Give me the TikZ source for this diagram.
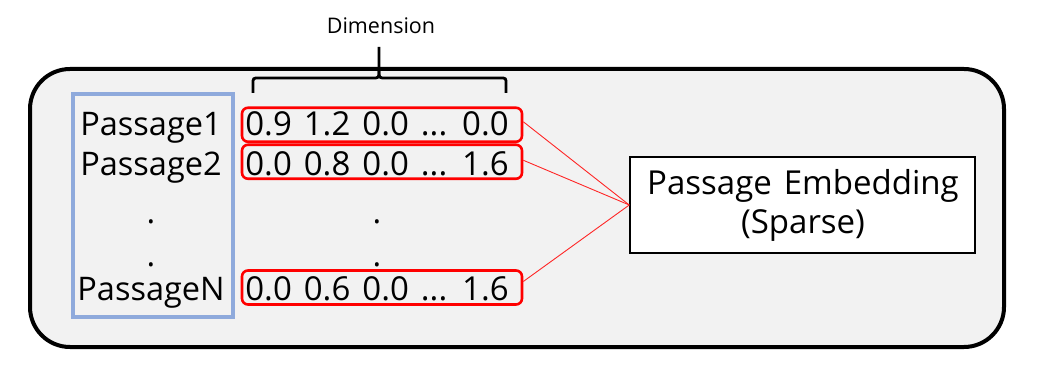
\documentclass[tikz,border=0pt]{standalone}
\usepackage{fontspec}
\setmainfont{Open Sans}
\newfontfamily\widefont[WordSpace=1.4]{Open Sans}
\begin{document}
\begin{tikzpicture}[x=1pt,y=-1pt,
  redbox/.style={draw=red, line width=2.6pt, rounded corners=6pt, minimum width=280pt, minimum height=34pt, inner sep=0pt},
  bigtxt/.style={font=\fontsize{32.5}{36}\selectfont, inner sep=0pt, anchor=base},
  numtxt/.style={font=\widefont\fontsize{33}{36}\selectfont, inner sep=0pt, anchor=base},
  conn/.style={draw=red!85!white, line width=0.9pt}]
\useasboundingbox (0,0) rectangle (1041,371);
\definecolor{bgg}{RGB}{242,242,242}
\definecolor{blu}{RGB}{143,170,220}
% outer container
\draw[line width=4pt, fill=bgg, rounded corners=40pt] (30,69) rectangle (1004,347);
% passage list box
\node[draw=blu, line width=4pt, minimum width=160pt, minimum height=223pt, inner sep=0pt] (plist) at (153,205.5) {};
\node[bigtxt] (p1) at (151,136) {Passage1};
\node[bigtxt] (p2) at (151,176) {Passage2};
\node[bigtxt] (pd1) at (151,224) {.};
\node[bigtxt] (pd2) at (151,267) {.};
\node[bigtxt] (pN) at (151,301) {PassageN};
% vector rows
\node[redbox] (r1) at (382,124.75) {};
\node[redbox] (r2) at (382,161.75) {};
\node[redbox] (rN) at (382,287.5) {};
\node[numtxt] (t1) at (377,136) {0.9 1.2 0.0 ... 0.0};
\node[numtxt] (t2) at (377,176) {0.0 0.8 0.0 ... 1.6};
\node[bigtxt] (vd1) at (377,224) {.};
\node[bigtxt] (vd2) at (377,267) {.};
\node[numtxt] (tN) at (377,301) {0.0 0.6 0.0 ... 1.6};
% embedding box
\node[draw, line width=1.5pt, fill=white, minimum width=345pt, minimum height=96pt, inner sep=0pt] (emb) at (802.5,205) {};
\node[numtxt, font=\widefont\fontsize{33}{36}\selectfont] (e1) at (803,195) {Passage Embedding};
\node[numtxt, font=\widefont\fontsize{33}{36}\selectfont] (e2) at (803,234) {(Sparse)};
% connectors
\draw[conn] ([yshift=3pt]r1.east) -- (emb.west);
\draw[conn] ([yshift=1.5pt]r2.east) -- (emb.west);
\draw[conn] ([yshift=6pt]rN.east) -- (emb.west);
% brace
\draw[line width=2.8pt] (253,93) -- (253,84) .. controls (253,78) .. (259,78) -- (372,78) .. controls (379,78) .. (379,71) -- (379,47);
\draw[line width=2.8pt] (379,71) .. controls (379,78) .. (386,78) -- (500,78) .. controls (506,78) .. (506,84) -- (506,93);
\node[font=\fontsize{21.5}{24}\selectfont, inner sep=0pt, anchor=base] (dim) at (381,34) {Dimension};
\end{tikzpicture}
\end{document}
